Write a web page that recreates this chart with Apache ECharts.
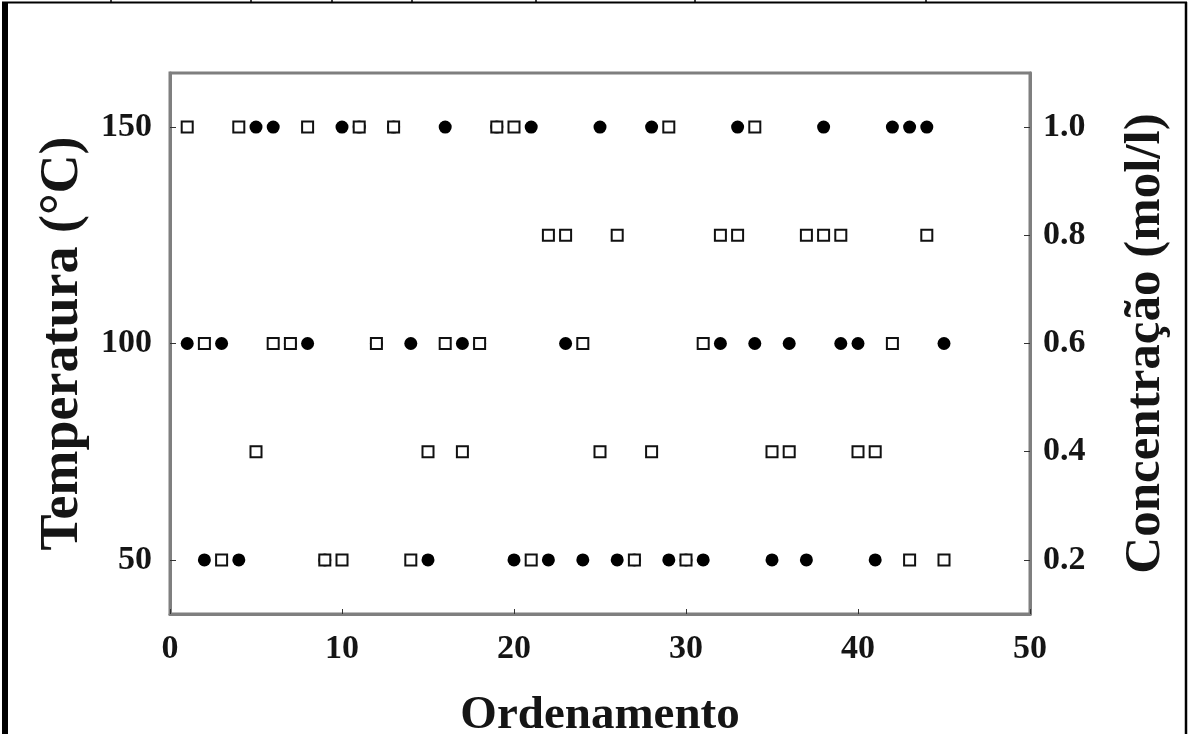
<!DOCTYPE html>
<html>
<head>
<meta charset="utf-8">
<script src="https://cdn.jsdelivr.net/npm/echarts@6/dist/echarts.min.js"></script>
<style>
html,body{margin:0;padding:0;background:#fff;}
#chart{width:1188px;height:734px;}
</style>
</head>
<body>
<div id="chart"></div>
<script>
// Run order (Ordenamento)
const ordem = [1,2,3,4,5,6,7,8,9,10,11,12,13,14,15,16,17,18,19,20,21,22,23,24,25,26,27,28,29,30,31,32,33,34,35,36,37,38,39,40,41,42,43,44,45];
// Temperature (°C) for each run — left axis, filled circles
const temperatura = [100,50,100,50,150,150,100,100,50,150,150,100,150,100,50,150,100,100,150,50,150,50,100,50,150,50,50,150,50,50,50,100,150,100,50,100,50,150,100,100,50,150,150,150,100];
// Concentration (mol/l) for each run — right axis, open squares
const concentracao = [1.0,0.6,0.2,1.0,0.4,0.6,0.6,1.0,0.2,0.2,1.0,0.6,1.0,0.2,0.4,0.6,0.4,0.6,1.0,1.0,0.2,0.8,0.8,0.6,0.4,0.8,0.2,0.4,1.0,0.2,0.6,0.8,0.8,1.0,0.4,0.4,0.8,0.8,0.8,0.4,0.4,0.6,0.2,0.8,0.2];
// Tick labels
const xTicks = [0,10,20,30,40,50];
const tempTicks = [50,100,150];
const concTicks = [0.2,0.4,0.6,0.8,1.0];

const FONT = '"Liberation Serif","Times New Roman",serif';
const axisGray = '#7f7f7f';

const chart = echarts.init(document.getElementById('chart'), null, {renderer:'canvas'});

const labelStyle = {fontFamily: FONT, fontWeight: 'bold', fontSize: 34, color: '#151515'};
const nameStyle = (s) => ({fontFamily: FONT, fontWeight: 'bold', fontSize: s, color: '#151515'});

chart.setOption({
  animation: false,
  backgroundColor: '#fff',
  grid: {left: 170, right: 158, top: 73, bottom: 120, show: true, borderColor: axisGray, borderWidth: 3, containLabel: false, outerBoundsMode: 'none'},
  xAxis: {
    type: 'value', min: 0, max: 50, interval: 10,
    axisLine: {show: true, lineStyle: {color: axisGray, width: 3}},
    axisTick: {show: true, inside: true, length: 5, lineStyle: {color: '#333', width: 1}, customValues: xTicks},
    axisLabel: Object.assign({margin: 18, customValues: xTicks}, labelStyle),
    splitLine: {show: false},
    name: 'Ordenamento', nameLocation: 'middle', nameGap: 78,
    nameTextStyle: nameStyle(47)
  },
  yAxis: [
    {
      type: 'value', min: 37.5, max: 162.5, position: 'left',
      axisLine: {show: true, lineStyle: {color: axisGray, width: 3}},
      axisTick: {show: true, inside: true, length: 6, lineStyle: {color: '#333', width: 1}, customValues: tempTicks},
      axisLabel: Object.assign({margin: 18, customValues: tempTicks}, labelStyle),
      splitLine: {show: false},
      name: 'Temperatura (°C)', nameLocation: 'middle', nameGap: 80, nameRotate: 90,
      nameTextStyle: nameStyle(54)
    },
    {
      type: 'value', min: 0.1, max: 1.1, position: 'right',
      axisLine: {show: true, lineStyle: {color: axisGray, width: 3}},
      axisTick: {show: true, inside: true, length: 6, lineStyle: {color: '#333', width: 1}, customValues: concTicks},
      axisLabel: Object.assign({margin: 13, customValues: concTicks, formatter: v => v.toFixed(1)}, labelStyle),
      splitLine: {show: false},
      name: 'Concentração (mol/l)', nameLocation: 'middle', nameGap: 90, nameRotate: 90,
      nameTextStyle: nameStyle(51)
    }
  ],
  series: [
    {
      name: 'Temperatura', type: 'scatter', yAxisIndex: 0, z: 2,
      symbol: 'circle', symbolSize: 13,
      itemStyle: {color: '#000', opacity: 1},
      data: ordem.map((o, i) => [o, temperatura[i]])
    },
    {
      name: 'Concentração', type: 'scatter', yAxisIndex: 1, z: 3,
      symbol: 'rect', symbolSize: 11,
      itemStyle: {color: '#fff', borderColor: '#111', borderWidth: 2, opacity: 1},
      data: ordem.map((o, i) => [o, concentracao[i]])
    }
  ],
  graphic: [
    {type: 'rect', shape: {x: 2, y: 3, width: 6, height: 731}, style: {fill: '#000'}, silent: true},
    {type: 'line', shape: {x1: 2, y1: 2.5, x2: 1187, y2: 2.5}, style: {stroke: '#000', lineWidth: 2}, silent: true},
    {type: 'line', shape: {x1: 1186, y1: 2, x2: 1186, y2: 734}, style: {stroke: '#000', lineWidth: 2.5}, silent: true},
    {type: 'group', children: [111, 251, 332, 412, 536, 695, 926].map(x => ({
      type: 'line', shape: {x1: x, y1: 0, x2: x, y2: 3}, style: {stroke: '#000', lineWidth: 1.5}, silent: true
    }))}
  ]
});
</script>
</body>
</html>
